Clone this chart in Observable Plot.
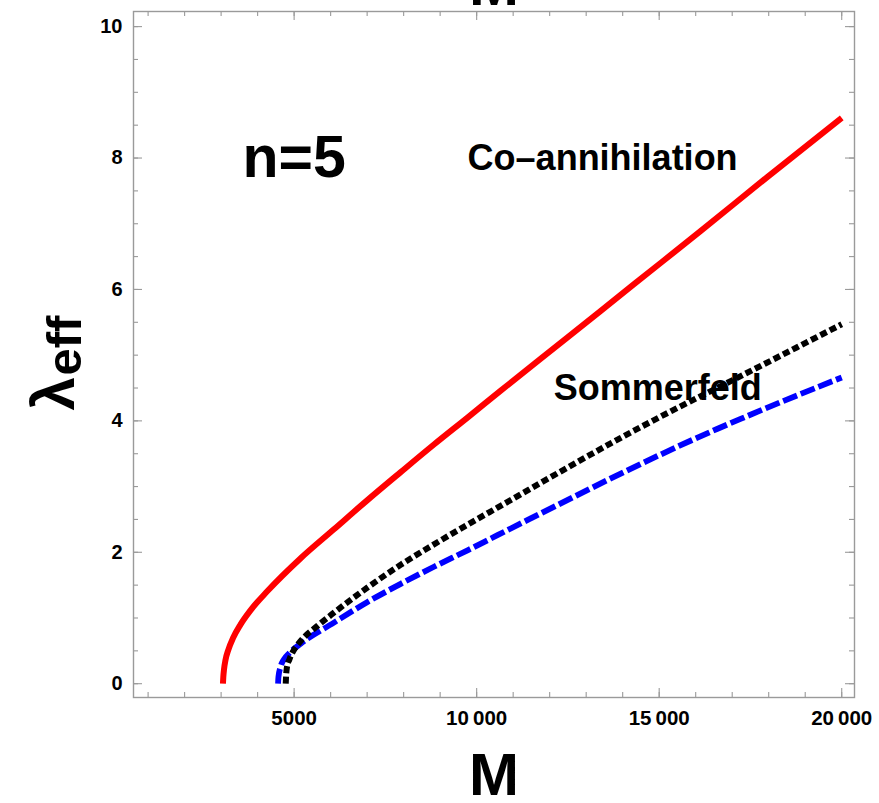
<!DOCTYPE html>
<html>
<head>
<meta charset="utf-8">
<script src="https://cdn.jsdelivr.net/npm/d3@7"></script>
<script src="https://cdn.jsdelivr.net/npm/@observablehq/plot@0.6"></script>
<style>
  html, body { margin: 0; padding: 0; background: white; }
  #chart { width: 879px; height: 803px; overflow: hidden; }
</style>
</head>
<body>
<div id="chart"></div>
<script>
// Effective coupling lambda_eff versus mass M (n = 5)
// Co-annihilation curve
const massCoann   = [3050, 3060, 3080, 3120, 3200, 3330, 3530, 3810, 4270, 5180, 6090, 7000, 7920, 8830, 9750, 10660, 12490, 14310, 16140, 17960, 20000];
const lambdaCoann = [0, 0.10, 0.22, 0.36, 0.52, 0.70, 0.90, 1.12, 1.41, 1.91, 2.35, 2.79, 3.22, 3.64, 4.05, 4.46, 5.27, 6.08, 6.89, 7.71, 8.61];

// Sommerfeld-enhanced curve (black dotted)
const massSomm   = [4770, 4780, 4800, 4870, 4960, 5180, 5640, 6090, 7000, 7920, 8830, 9750, 10570, 14310, 15230, 17050, 18880, 20000];
const lambdaSomm = [0, 0.12, 0.24, 0.37, 0.48, 0.65, 0.88, 1.08, 1.46, 1.81, 2.12, 2.42, 2.68, 3.85, 4.12, 4.63, 5.15, 5.47];

// Third curve (blue dashed)
const massBlue   = [4560, 4570, 4630, 4720, 4860, 5180, 6090, 7000, 7920, 8830, 9750, 10570, 16600, 17230, 18880, 20000];
const lambdaBlue = [0, 0.10, 0.26, 0.37, 0.46, 0.61, 0.93, 1.24, 1.52, 1.78, 2.03, 2.26, 3.88, 4.03, 4.41, 4.66];

// Tick positions
const xMajorTicks = [5000, 10000, 15000, 20000];
const xMinorTicks = d3.range(1000, 20001, 1000);
const yMajorTicks = [0, 2, 4, 6, 8, 10];
const yMinorTicks = d3.range(0, 10.01, 0.5);

// In-plot annotations
const notes = [
  {M: 5000,  lambda: 8.0, text: "n=5",                  size: 59},
  {M: 13450, lambda: 8.0, text: "Co\u2013annihilation", size: 36},
  {M: 14960, lambda: 4.5, text: "Sommerfeld",           size: 36}
];

const rows = (ms, ls) => ms.map((m, i) => ({M: m, lambda: ls[i]}));
const coann = rows(massCoann, lambdaCoann);
const somm = rows(massSomm, lambdaSomm);
const blue = rows(massBlue, lambdaBlue);

const W = 879, H = 803;
const mL = 133, mR = 25, mT = 11, mB = 106;
const fw = W - mL - mR, fh = H - mT - mB;
const tickColor = "#9a9a9a";
const major = 9, minor = 5;
const font = "'Liberation Sans', Arial, sans-serif";

// five-digit numbers get a narrow gap before the last three digits
const fmtX = d => d >= 10000 ? String(d).replace(/(\d+)(\d{3})$/, "$1\u2009$2") : String(d);

const chart = Plot.plot({
  width: W, height: H,
  marginLeft: mL, marginRight: mR, marginTop: mT, marginBottom: mB,
  style: {fontFamily: font, background: "white", color: "black"},
  x: {domain: [600, 20350]},
  y: {domain: [-0.21, 10.23]},
  marks: [
    // frame ticks, pointing inward on all four sides
    Plot.tickX(xMinorTicks, {x: d => d, stroke: tickColor, strokeWidth: 1.1, insetTop: fh - minor}),
    Plot.tickX(xMinorTicks, {x: d => d, stroke: tickColor, strokeWidth: 1.1, insetBottom: fh - minor}),
    Plot.tickX(xMajorTicks, {x: d => d, stroke: tickColor, strokeWidth: 1.1, insetTop: fh - major}),
    Plot.tickX(xMajorTicks, {x: d => d, stroke: tickColor, strokeWidth: 1.1, insetBottom: fh - major}),
    Plot.tickY(yMinorTicks, {y: d => d, stroke: tickColor, strokeWidth: 1.1, insetRight: fw - minor}),
    Plot.tickY(yMinorTicks, {y: d => d, stroke: tickColor, strokeWidth: 1.1, insetLeft: fw - minor}),
    Plot.tickY(yMajorTicks, {y: d => d, stroke: tickColor, strokeWidth: 1.1, insetRight: fw - major}),
    Plot.tickY(yMajorTicks, {y: d => d, stroke: tickColor, strokeWidth: 1.1, insetLeft: fw - major}),
    Plot.frame({stroke: tickColor, strokeWidth: 1.4}),

    // tick labels
    Plot.axisX({ticks: xMajorTicks, tickSize: 0, tickPadding: 13, tickFormat: fmtX,
      fontSize: 20.5, fontWeight: "bold", label: null}),
    Plot.axisY({ticks: yMajorTicks, tickSize: 0, tickPadding: 11,
      fontSize: 20, fontWeight: "bold", label: null}),

    // curves
    Plot.line(coann, {x: "M", y: "lambda", stroke: "#ff0000", strokeWidth: 6, curve: "monotone-x", strokeLinecap: "butt"}),
    Plot.line(blue, {x: "M", y: "lambda", stroke: "#0000ff", strokeWidth: 5.8, curve: "monotone-x",
      strokeDasharray: "15,4", strokeLinecap: "butt"}),
    Plot.line(somm, {x: "M", y: "lambda", stroke: "black", strokeWidth: 6, curve: "monotone-x",
      strokeDasharray: "7,3.5", strokeLinecap: "butt"}),

    // annotations
    Plot.text(notes, {x: "M", y: "lambda", text: "text", fontSize: d => d.size, fontWeight: "bold",
      fill: "black", textAnchor: "middle", lineAnchor: "middle"}),

    // axis titles
    Plot.text(["M"], {frameAnchor: "bottom", dy: 97, lineAnchor: "bottom", fontSize: 60, fontWeight: "bold", fill: "black"}),
    Plot.text(["M"], {frameAnchor: "top", dy: -7, lineAnchor: "bottom", fontSize: 60, fontWeight: "bold", fill: "black"}),
    Plot.text(["\u03bb"], {frameAnchor: "left", dx: -60, dy: 56, rotate: -90, textAnchor: "start", lineAnchor: "bottom",
      fontSize: 60, fontWeight: "bold", fill: "black"}),
    Plot.text(["eff"], {frameAnchor: "left", dx: -53, dy: 21, rotate: -90, textAnchor: "start", lineAnchor: "bottom",
      fontSize: 49, fontWeight: "bold", fill: "black"})
  ]
});

document.getElementById("chart").appendChild(chart);
</script>
</body>
</html>
